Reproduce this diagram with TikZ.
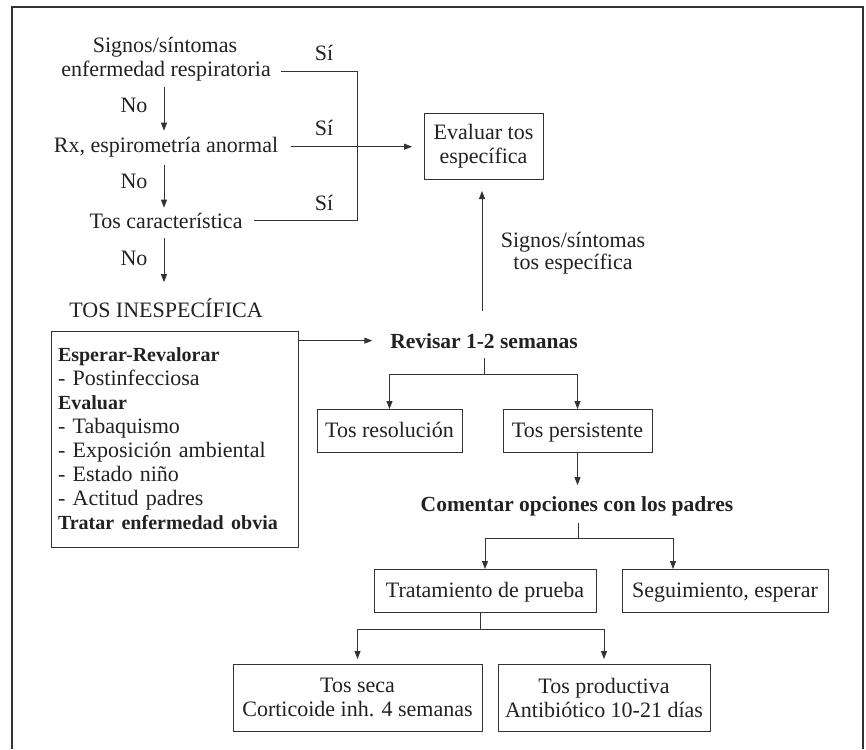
\documentclass[tikz,border=0pt]{standalone}
\usepackage{fontspec}
\setmainfont{Liberation Serif}
\usetikzlibrary{arrows.meta,calc}
\definecolor{ink}{HTML}{222222}
\definecolor{wire}{HTML}{333333}
\newcommand\myboldsz{\fontsize{21.5}{24}\selectfont\bfseries}
\newcommand\myboxbold{\fontsize{20}{24}\selectfont\bfseries}
\begin{document}
\begin{tikzpicture}[x=1pt,y=-1pt,
  every node/.style={inner sep=0pt,outer sep=0pt,text=ink},
  txt/.style={font=\fontsize{22}{24}\selectfont},
  btxt/.style={font=\myboldsz},
  lbl/.style={txt,anchor=base},
  blbl/.style={btxt,anchor=base},
  boxnode/.style={txt,draw=wire,line width=1pt,align=center},
  onebox/.style={boxnode,minimum height=43pt,text height=17pt,text depth=4pt},
  line/.style={draw=wire,line width=1pt},
  arr/.style={line,-{Triangle[length=8pt,width=6pt]}}]
\useasboundingbox (0,0) rectangle (866,749);
\fill[white] (0,0) rectangle (866,749);
% frame
\draw[wire,line width=2pt] (12,749) -- (12,7) -- (863,7) -- (863,749);

% left decision column
\node[lbl] (s1a) at (165,53) {Signos/síntomas};
\node[lbl] (s1b) at (166,77) {enfermedad respiratoria};
\node[lbl] (s2) at (166,152) {Rx, espirometría anormal};
\node[lbl] (s3) at (166,228) {Tos característica};
\node[lbl] (tin) at (166,317) {TOS INESPECÍFICA};

\node[lbl] (no1) at (134,112) {No};
\node[lbl] (no2) at (134,188) {No};
\node[lbl] (no3) at (134,265) {No};
\node[lbl] (si1) at (324,61) {Sí};
\node[lbl] (si2) at (324,135) {Sí};
\node[lbl] (si3) at (324,210) {Sí};

\coordinate (ax) at (164,0);
\draw[arr,shorten <=5pt,shorten >=6pt] (s1b.south -| ax) -- (s2.north -| ax);
\draw[arr,shorten <=8pt,shorten >=5pt] (s2.south -| ax) -- (s3.north -| ax);
\draw[arr,shorten <=10pt,shorten >=16pt] (s3.south -| ax) -- (tin.north -| ax);

% evaluar tos especifica
\node[boxnode,minimum width=119pt,minimum height=66pt] (ev) at (483.5,146) {Evaluar tos\\específica};

\coordinate (jx) at (357,0);
\coordinate (j3) at (s3.east -| jx);
\draw[line] ([xshift=10pt]s1b.east) -| (j3) -- ([xshift=12pt]s3.east);
\draw[arr,shorten >=12pt] ([xshift=13pt]s2.east) -- (ev.west |- s2.east);

% tos inespecifica box
\node[txt,draw=wire,line width=1pt,minimum width=247pt,minimum height=216pt,
      text width=233pt,inner xsep=7pt,align=left] (bx) at (174.5,439)
  {\mbox{\myboxbold Esperar-Revalorar}\\
   - Postinfecciosa\\
   \mbox{\myboxbold Evaluar}\\
   - Tabaquismo\\
   \mbox{- Exposición ambiental}\\
   \mbox{- Estado niño}\\
   \mbox{- Actitud padres}\\
   \mbox{\myboxbold Tratar enfermedad obvia}};

% revisar
\node[blbl] (rev) at (484,348) {Revisar 1-2 semanas};
\draw[arr,shorten >=18pt] (bx.east |- rev) -- (rev.west);
\coordinate (vx) at (482,0);
\draw[arr,shorten <=22pt,shorten >=12pt] (rev.north -| vx) -- (ev.south -| vx);
\node[txt,align=center] (lab) at (573,253) {Signos/síntomas\\[-2pt]tos específica};

\node[onebox,minimum width=145pt] (res) at (389.5,430.5) {Tos resolución};
\node[onebox,minimum width=149pt] (pers) at (577.5,430.5) {Tos persistente};
\path (rev.base) ++(0,26) coordinate (rb);
\draw[line,shorten <=10pt] (rev.base) -- (rb);
\draw[arr] (rb) -| (res.north);
\draw[arr] (rb) -| (pers.north);

% comentar
\node[blbl] (com) at (577,511) {Comentar opciones con los padres};
\draw[arr,shorten >=11pt] (pers.south) -- (pers.south |- com.north);

\node[onebox,minimum width=222pt] (tra) at (485,590.5) {Tratamiento de prueba};
\node[onebox,minimum width=206pt] (seg) at (725,590.5) {Seguimiento, esperar};
\path (com.base) ++(1,27) coordinate (cb);
\coordinate (sx) at (673,538);
\draw[line,shorten <=12pt] (com.base -| cb) -- (cb);
\draw[arr] (cb) -| (tra.north);
\draw[arr] (cb) -- (sx) -- (sx |- seg.north);

% tratamiento branches
\node[boxnode,minimum width=249pt,minimum height=67pt] (seca) at (357.5,697.5) {Tos seca\\Corticoide inh. 4 semanas};
\node[boxnode,minimum width=212pt,minimum height=67pt] (prod) at (604,697.5) {Tos productiva\\Antibiótico 10-21 días};
\coordinate (tx) at (480,0);
\coordinate (tb) at (480,629);
\draw[line] (tra.south -| tx) -- (tb);
\draw[arr,shorten >=5pt] (tb) -| (seca.north);
\draw[arr,shorten >=5pt] (tb) -| (prod.north);
\end{tikzpicture}
\end{document}
